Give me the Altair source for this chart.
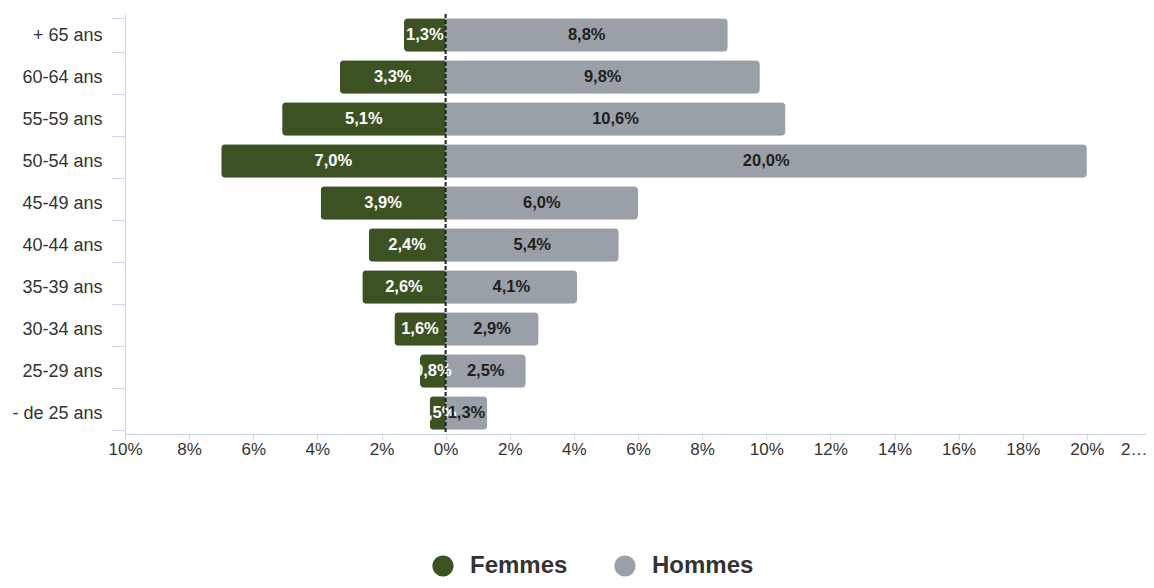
import altair as alt
import pandas as pd

ages = ["+ 65 ans", "60-64 ans", "55-59 ans", "50-54 ans", "45-49 ans",
        "40-44 ans", "35-39 ans", "30-34 ans", "25-29 ans", "- de 25 ans"]
femmes = [1.3, 3.3, 5.1, 7.0, 3.9, 2.4, 2.6, 1.6, 0.8, 0.5]
hommes = [8.8, 9.8, 10.6, 20.0, 6.0, 5.4, 4.1, 2.9, 2.5, 1.3]
series = ["Femmes", "Hommes"]
colors = ["#3d5222", "#9aa0a8"]
x_ticks = list(range(-10, 23, 2))

rows = []
for a, f, h in zip(ages, femmes, hommes):
    rows.append({"age": a, "sexe": "Femmes", "value": f, "signed": -f,
                 "label": f"{f:.1f}%".replace(".", ",")})
    rows.append({"age": a, "sexe": "Hommes", "value": h, "signed": h,
                 "label": f"{h:.1f}%".replace(".", ",")})
df = pd.DataFrame(rows)

FONT = "Liberation Sans"

xscale = alt.Scale(domain=[-10, 22], range=[0, 1026], nice=False, zero=False)
yscale = alt.Scale(domain=ages, paddingInner=0.2, paddingOuter=0.1)

x_axis = alt.Axis(
    values=x_ticks, title=None, grid=False,
    labelExpr="datum.value >= 22 ? '2…' : abs(datum.value) + '%'",
    labelAlign={"condition": {"test": "datum.value >= 22", "value": "right"}, "value": "center"},
    labelOffset={"condition": {"test": "datum.value >= 22", "value": -4}, "value": 0},
    labelFontSize=17, labelColor="#333333", labelFont=FONT,
    domainColor="#ccd6eb", tickColor="#ccd6eb", tickSize=5, labelPadding=2,
)
y_axis = alt.Axis(
    title=None, grid=False, labelFontSize=18, labelColor="#333333", labelFont=FONT,
    domainColor="#ccd6eb", tickColor="#ccd6eb", tickSize=14, tickBand="extent",
    tickExtra=True, labelPadding=9,
)

base = alt.Chart(df)

bars = base.mark_bar(cornerRadius=4).encode(
    x=alt.X("signed:Q", scale=xscale, axis=x_axis),
    y=alt.Y("age:N", scale=yscale, sort=ages, axis=y_axis),
    color=alt.Color("sexe:N", scale=alt.Scale(domain=series, range=colors),
                    legend=alt.Legend(
                        title=None, orient="none", direction="horizontal",
                        legendX=306, legendY=540, symbolType="circle",
                        symbolSize=450, symbolStrokeWidth=0, labelFontSize=24,
                        labelFontWeight="bold", labelColor="#333333", labelFont=FONT,
                        labelOffset=15, columnPadding=45)),
)

labels_f = base.transform_filter("datum.sexe == 'Femmes'").transform_calculate(
    mid="datum.signed / 2").mark_text(
    font=FONT, fontSize=16.5, fontWeight="bold", color="#ffffff").encode(
    x=alt.X("mid:Q", scale=xscale),
    y=alt.Y("age:N", scale=yscale, sort=ages),
    text="label:N",
)
labels_h = base.transform_filter("datum.sexe == 'Hommes'").transform_calculate(
    mid="datum.signed / 2").mark_text(
    font=FONT, fontSize=16.5, fontWeight="bold", color="#1f1f1f").encode(
    x=alt.X("mid:Q", scale=xscale),
    y=alt.Y("age:N", scale=yscale, sort=ages),
    text="label:N",
)

zero = alt.Chart(pd.DataFrame({"z": [0]})).mark_rule(
    color="#222222", strokeWidth=2, strokeDash=[4, 2]).encode(
    x=alt.X("z:Q", scale=xscale))

chart = alt.layer(bars, labels_f, labels_h, zero).properties(
    width=1021, height=420,
    autosize=alt.AutoSizeParams(type="none"),
    padding={"left": 117, "top": 6, "right": 0, "bottom": 145},
).configure_view(strokeWidth=0)

chart.save("out.html", embed_options={"renderer": "svg", "actions": False})
